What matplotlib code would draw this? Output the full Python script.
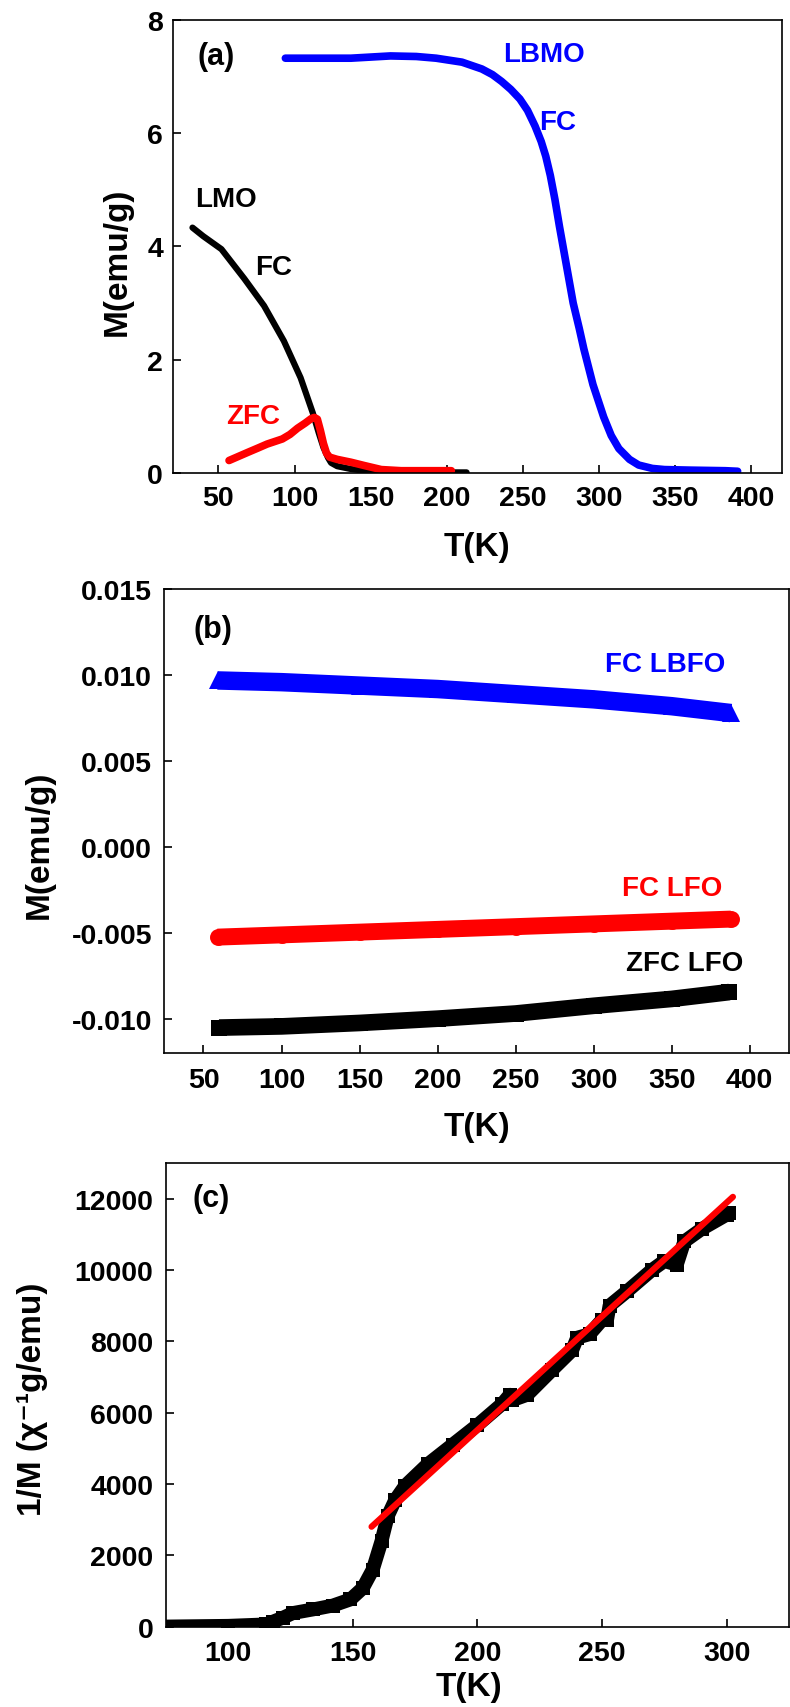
import matplotlib
matplotlib.use('Agg')
from matplotlib import pyplot as plt

# ---------------- panel (a): M vs T ----------------
lbmo_T = [94, 120, 137, 150, 163, 180, 193, 210, 223, 230, 236, 242, 248, 253, 258, 262, 265,
          268, 271, 274, 277, 280, 283, 287, 290, 296, 303, 308, 313, 320, 326, 335, 343,
          360, 383, 391]
lbmo_M = [7.32, 7.32, 7.32, 7.34, 7.36, 7.35, 7.32, 7.25, 7.13, 7.03, 6.91, 6.77, 6.60, 6.40,
          6.12, 5.85, 5.59, 5.25, 4.83, 4.35, 3.90, 3.45, 3.00, 2.55, 2.19, 1.56, 0.99, 0.66,
          0.43, 0.24, 0.14, 0.08, 0.06, 0.05, 0.04, 0.03]

lmo_T = [33, 40, 52, 67, 80, 93, 104, 112, 116, 119, 122, 124, 128, 137, 146, 155, 170, 190, 213]
lmo_M = [4.33, 4.18, 3.95, 3.43, 2.95, 2.33, 1.68, 1.06, 0.70, 0.45, 0.27, 0.18, 0.12, 0.07,
         0.04, 0.02, 0.01, 0.01, 0.01]

zfc_T = [57, 63, 69, 76, 82, 92, 97, 102, 107, 111, 113, 115, 117, 119, 121, 123, 128,
         137, 146, 157, 170, 185, 203]
zfc_M = [0.22, 0.29, 0.36, 0.44, 0.51, 0.60, 0.68, 0.79, 0.88, 0.96, 0.98, 0.95, 0.75,
         0.52, 0.35, 0.28, 0.24, 0.19, 0.13, 0.06, 0.04, 0.04, 0.04]

# ---------------- panel (b): ferrites ----------------
lbfo_T = [59, 100, 150, 200, 250, 300, 350, 388]
lbfo_M = [0.0097, 0.0096, 0.0094, 0.0092, 0.0089, 0.0086, 0.0082, 0.0078]

lfo_fc_T = [59, 100, 150, 200, 250, 300, 350, 388]
lfo_fc_M = [-0.00525, -0.00512, -0.00496, -0.00480, -0.00464, -0.00448, -0.00432, -0.00420]

lfo_zfc_T = [60, 100, 150, 200, 250, 300, 350, 387]
lfo_zfc_M = [-0.01052, -0.01045, -0.01025, -0.01000, -0.00970, -0.00925, -0.00885, -0.00845]

# ---------------- panel (c): inverse M ----------------
inv_T = [75, 100, 115, 118, 122, 126, 134, 142, 149, 154, 158, 161.5, 164, 167, 171, 180,
         190, 200, 210, 213, 214, 220, 230, 238, 240, 245, 250, 252, 253, 260, 270, 275,
         280, 283, 290, 300, 301]
inv_M = [0, 20, 60, 140, 250, 380, 480, 590, 760, 1080, 1600, 2400, 3100, 3550, 3950, 4550,
         5100, 5650, 6250, 6500, 6350, 6500, 7200, 7750, 8100, 8200, 8600, 8600, 9000, 9400,
         10000, 10250, 10150, 10800, 11150, 11550, 11600]

fit_T = [157.5, 302.5]
fit_M = [2800, 12050]

plt.rcParams['font.family'] = ['Liberation Sans', 'DejaVu Sans']
plt.rcParams['font.weight'] = 'bold'
plt.rcParams['axes.unicode_minus'] = False

LBL = 24
TCK = 20.5


def style_axes(ax, xpad, ypad):
    ax.tick_params(direction='in', length=6, width=1.2, labelsize=TCK, top=False, right=False)
    ax.tick_params(axis='x', pad=xpad)
    ax.tick_params(axis='y', pad=ypad)
    for s in ax.spines.values():
        s.set_linewidth(1.2)


fig = plt.figure(figsize=(7.9, 17.08), dpi=100)

# (a)
ax = fig.add_axes([0.2186, 0.7225, 0.771, 0.2654])
ax.plot(lmo_T, lmo_M, color='black', lw=4.5, solid_capstyle='round')
ax.plot(zfc_T, zfc_M, color='red', lw=5.5, solid_capstyle='round')
ax.plot(lbmo_T, lbmo_M, color='blue', lw=5.5, solid_capstyle='round')
ax.set_xlim(20, 420)
ax.set_ylim(0, 8)
ax.set_xticks(range(50, 401, 50))
ax.set_yticks([0, 2, 4, 6, 8])
style_axes(ax, 9, 7)
ax.set_xlabel('T(K)', fontsize=LBL, fontweight='bold')
ax.set_ylabel('M(emu/g)', fontsize=LBL, fontweight='bold')
ax.xaxis.set_label_coords(0.5, -0.128)
ax.yaxis.set_label_coords(-0.066, 0.468)
ax.text(0.071, 0.919, '(a)', transform=ax.transAxes, fontsize=22, ha='center', va='center')
ax.text(264, 7.4, 'LBMO', color='blue', fontsize=20, ha='center', va='center')
ax.text(273, 6.19, 'FC', color='blue', fontsize=20, ha='center', va='center')
ax.text(55, 4.83, 'LMO', color='black', fontsize=20, ha='center', va='center')
ax.text(86, 3.63, 'FC', color='black', fontsize=20, ha='center', va='center')
ax.text(73, 1.01, 'ZFC', color='red', fontsize=20, ha='center', va='center')

# (b)
ax = fig.add_axes([0.2082, 0.3829, 0.7902, 0.2714])
ax.plot(lbfo_T, lbfo_M, color='blue', lw=13.3, marker='^', ms=13.3, mew=0,
        solid_capstyle='butt')
ax.plot(lfo_fc_T, lfo_fc_M, color='red', lw=12.2, marker='o', ms=12.2, mew=0,
        solid_capstyle='butt')
ax.plot(lfo_zfc_T, lfo_zfc_M, color='black', lw=12, marker='s', ms=12, mew=0,
        solid_capstyle='butt')
ax.set_xlim(25, 425)
ax.set_ylim(-0.012, 0.015)
ax.set_xticks(range(50, 401, 50))
ax.set_yticks([-0.010, -0.005, 0.0, 0.005, 0.010, 0.015])
ax.set_yticklabels(['%.3f' % v for v in [-0.010, -0.005, 0.0, 0.005, 0.010, 0.015]])
style_axes(ax, 10, 9)
ax.set_xlabel('T(K)', fontsize=LBL, fontweight='bold')
ax.set_ylabel('M(emu/g)', fontsize=LBL, fontweight='bold')
ax.xaxis.set_label_coords(0.5, -0.125)
ax.yaxis.set_label_coords(-0.176, 0.451)
ax.text(0.078, 0.915, '(b)', transform=ax.transAxes, fontsize=22, ha='center', va='center')
ax.text(346, 0.01066, 'FC LBFO', color='blue', fontsize=20, ha='center', va='center')
ax.text(350, -0.00239, 'FC LFO', color='red', fontsize=20, ha='center', va='center')
ax.text(358, -0.00674, 'ZFC LFO', color='black', fontsize=20, ha='center', va='center')

# (c)
ax = fig.add_axes([0.2101, 0.0471, 0.7886, 0.2714])
ax.plot(inv_T, inv_M, color='black', lw=10, marker='s', ms=10, mew=0, solid_capstyle='butt')
ax.plot(fit_T, fit_M, color='red', lw=4.5, solid_capstyle='round')
ax.set_xlim(75, 325)
ax.set_ylim(0, 13000)
ax.set_xticks([100, 150, 200, 250, 300])
ax.set_yticks(range(0, 12001, 2000))
style_axes(ax, 10, 9)
ax.set_xlabel('T(K)', fontsize=LBL, fontweight='bold')
ax.set_ylabel('1/M (χ⁻¹g/emu)', fontsize=LBL, fontweight='bold')
ax.xaxis.set_label_coords(0.486, -0.096)
ax.yaxis.set_label_coords(-0.19, 0.493)
ax.text(0.073, 0.924, '(c)', transform=ax.transAxes, fontsize=22, ha='center', va='center')

fig.savefig('out.png', dpi=100)
